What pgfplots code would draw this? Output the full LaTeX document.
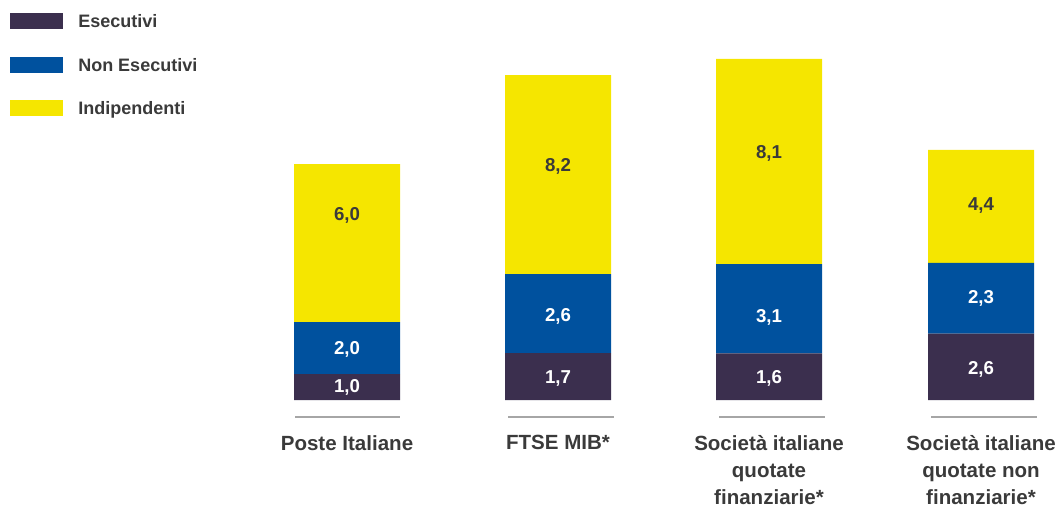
\documentclass[border=0pt]{standalone}
\usepackage{fontspec}
\setmainfont{Liberation Sans}
\usepackage{pgfplots}
\pgfplotsset{compat=1.18}

\definecolor{esec}{HTML}{3B2F4E}
\definecolor{nonesec}{HTML}{00519E}
\definecolor{indip}{HTML}{F5E600}
\definecolor{testo}{HTML}{3A3A3A}
\definecolor{riga}{HTML}{A6A6A6}

% 1 px of the reference = 0.75pt; x axis in px, y axis in units of 26.4 px
\pgfplotsset{
  base/.style={
    width=795pt, height=300pt, scale only axis,
    xmin=0, xmax=1060, ymin=0, ymax=15.1515,
    enlargelimits=false, clip=false,
    axis line style={draw=none}, tick style={draw=none},
    ytick=\empty,
  },
  leg/.style={legend image code/.code={\fill[##1] (0pt,-6pt) rectangle (39.75pt,6pt);}},
  val/.style={draw=none, mark=none, nodes near coords, point meta=explicit symbolic,
    nodes near coords style={anchor=center, inner sep=0pt,
      font=\fontsize{14}{16}\selectfont\bfseries, text=#1}},
}

\begin{document}
\begin{tikzpicture}
\begin{axis}[base, ybar stacked, bar width=106, xtick=\empty,
  legend cell align=left,
  legend style={at={(axis description cs:0,1)}, anchor=north west,
    xshift=7.5pt, yshift=-9.75pt, draw=none, fill=none, inner sep=0pt,
    row sep=20.6pt, column sep=11.25pt,
    nodes={inner sep=0pt, text height=11pt, text depth=1pt,
      font=\fontsize{13.5}{16}\selectfont\bfseries, text=testo}},
]
\addplot[fill=esec, draw=none, leg] coordinates {(347,0.98) (558,1.78) (769,1.77) (981,2.51)};
\addplot[fill=nonesec, draw=none, leg] coordinates {(347,1.97) (558,2.99) (769,3.38) (981,2.68)};
\addplot[fill=indip, draw=none, leg] coordinates {(347,5.98) (558,7.54) (769,7.77) (981,4.28)};
\legend{Esecutivi, Non Esecutivi, Indipendenti}
\end{axis}

\begin{axis}[base,
  xtick={347,558,769,981},
  xticklabels={Poste Italiane, FTSE MIB*, {Società italiane\\quotate\\finanziarie*}, {Società italiane\\quotate non\\finanziarie*}},
  xticklabel style={font=\fontsize{15.4}{20.25}\selectfont\bfseries, text=testo,
    align=center, anchor=north, inner sep=0pt, yshift=-26.5pt},
]
\addplot[val=white] coordinates {(347,0.47)[1,0] (558,0.83)[1,7] (769,0.83)[1,6] (981,1.14)[2,6]};
\addplot[val=white] coordinates {(347,1.93)[2,0] (558,3.16)[2,6] (769,3.11)[3,1] (981,3.86)[2,3]};
\addplot[val=testo] coordinates {(347,6.98)[6,0] (558,8.86)[8,2] (769,9.35)[8,1] (981,7.35)[4,4]};
\draw[riga, line width=1.5pt] (axis cs:295,-0.644) -- (axis cs:400,-0.644);
\draw[riga, line width=1.5pt] (axis cs:508,-0.644) -- (axis cs:614,-0.644);
\draw[riga, line width=1.5pt] (axis cs:719,-0.644) -- (axis cs:825,-0.644);
\draw[riga, line width=1.5pt] (axis cs:931,-0.644) -- (axis cs:1037,-0.644);
\path (axis cs:0,-4.053) rectangle (axis cs:1060,15.1515);
\end{axis}
\end{tikzpicture}
\end{document}
